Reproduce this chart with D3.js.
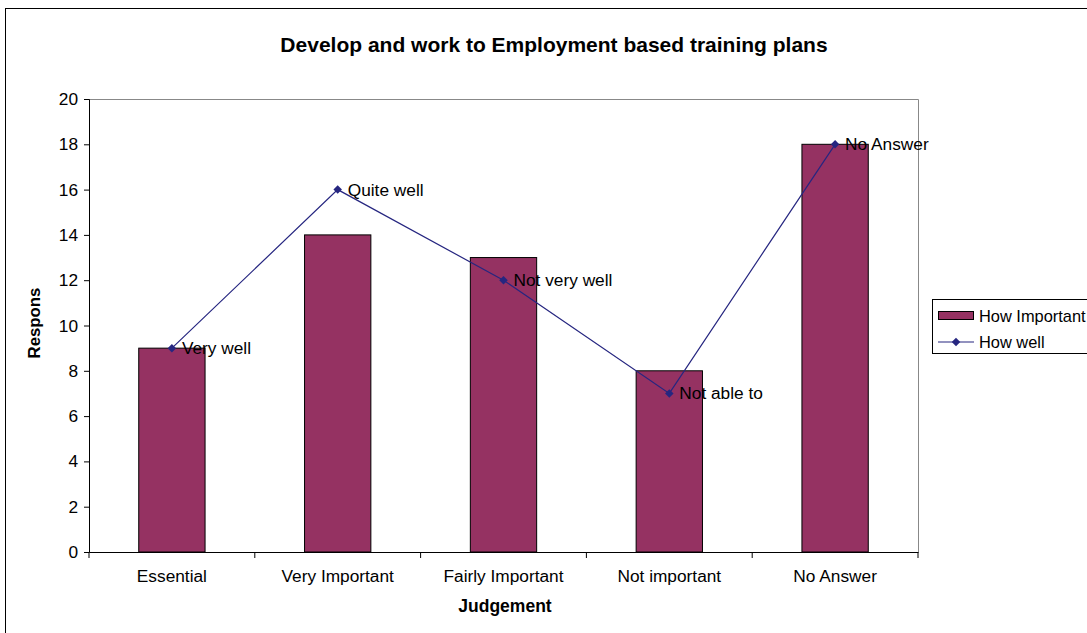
<!DOCTYPE html>
<html><head><meta charset="utf-8">
<script src="https://cdn.jsdelivr.net/npm/d3@7"></script>
<style>body{margin:0;background:#fff;overflow:hidden}svg{display:block}</style>
</head><body>
<svg id="c" width="1087" height="633"></svg>
<script>
const categories = ["Essential", "Very Important", "Fairly Important", "Not important", "No Answer"];
const howImportant = [9, 14, 13, 8, 18];
const howWell = [9, 16, 12, 7, 18];
const wellLabels = ["Very well", "Quite well", "Not very well", "Not able to", "No Answer"];
const yTicks = [0, 2, 4, 6, 8, 10, 12, 14, 16, 18, 20];
const seriesNames = ["How Important", "How well"];

(function () {
const svg = d3.select("#c");
const font = "'Liberation Sans', Arial, sans-serif";
const fs = 17.3;
const barColor = "#953262", lineColor = "#262680";
const pL = 89, pR = 918, pT = 99, pB = 552;

svg.append("rect").attr("x", 5.5).attr("y", 8.5).attr("width", 1300).attr("height", 800)
  .attr("fill", "#fff").attr("stroke", "#000").attr("stroke-width", 1);

const x = d3.scaleBand().domain(categories).range([pL, pR]).paddingInner(0).paddingOuter(0);
const y = d3.scaleLinear().domain([0, 20]).range([pB, pT]);

svg.append("path").attr("d", `M${pL},${pT + 0.5}H${pR + 0.5}V${pB}`)
  .attr("fill", "none").attr("stroke", "#888").attr("stroke-width", 1);

const bw = x.bandwidth() * 0.4;
svg.append("g").selectAll("rect").data(categories).join("rect")
  .attr("x", (d) => x(d) + (x.bandwidth() - bw) / 2)
  .attr("y", (d, i) => y(howImportant[i]))
  .attr("width", bw)
  .attr("height", (d, i) => y(0) - y(howImportant[i]))
  .attr("fill", barColor).attr("stroke", "#000").attr("stroke-width", 1);

const ya = svg.append("g").attr("transform", `translate(${pL},0)`)
  .call(d3.axisLeft(y).tickValues(yTicks).tickSize(5).tickPadding(6).tickFormat(d3.format("d")));
ya.select(".domain").attr("stroke", "#000");
ya.selectAll(".tick line").attr("stroke", "#000");
ya.selectAll("text").attr("font-family", font).attr("font-size", fs).attr("fill", "#000");

const xa = svg.append("g").attr("transform", `translate(0,${pB})`)
  .call(d3.axisBottom(x).tickSize(0).tickPadding(18));
xa.select(".domain").attr("stroke", "#000");
xa.selectAll("text").attr("font-family", font).attr("font-size", fs).attr("fill", "#000");
const edges = categories.map((c) => x(c)).concat([pR]);
svg.append("g").selectAll("line").data(edges).join("line")
  .attr("x1", (d) => d).attr("x2", (d) => d)
  .attr("y1", pB).attr("y2", pB + 6)
  .attr("stroke", "#000");

const cx = (i) => x(categories[i]) + x.bandwidth() / 2;
svg.append("path").datum(howWell)
  .attr("d", d3.line().x((d, i) => cx(i)).y((d) => y(d)))
  .attr("fill", "none").attr("stroke", lineColor).attr("stroke-width", 1.2);
const marker = d3.symbol().type(d3.symbolSquare).size(36);
svg.append("g").selectAll("path").data(howWell).join("path")
  .attr("d", marker)
  .attr("transform", (d, i) => `translate(${cx(i)},${y(d)}) rotate(45)`)
  .attr("fill", lineColor);
svg.append("g").selectAll("text").data(howWell).join("text")
  .attr("x", (d, i) => cx(i) + 10).attr("y", (d) => y(d) + 6)
  .attr("font-family", font).attr("font-size", fs).attr("fill", "#000")
  .text((d, i) => wellLabels[i]);

svg.append("text").attr("x", 554).attr("y", 52).attr("text-anchor", "middle")
  .attr("font-family", font).attr("font-size", 21).attr("font-weight", "bold")
  .text("Develop and work to Employment based training plans");
svg.append("text").attr("x", 505).attr("y", 612).attr("text-anchor", "middle")
  .attr("font-family", font).attr("font-size", 17.5).attr("font-weight", "bold")
  .text("Judgement");
svg.append("text").attr("transform", "translate(40,323) rotate(-90)").attr("text-anchor", "middle")
  .attr("font-family", font).attr("font-size", 16.8).attr("font-weight", "bold")
  .text("Respons");

const lg = svg.append("g");
const lfs = 16.4;
lg.append("rect").attr("x", 932.5).attr("y", 299.5).attr("width", 200).attr("height", 54)
  .attr("fill", "#fff").attr("stroke", "#000");
lg.append("rect").attr("x", 938.5).attr("y", 311.5).attr("width", 35).attr("height", 8)
  .attr("fill", barColor).attr("stroke", "#000");
lg.append("text").attr("x", 979).attr("y", 322).attr("font-family", font).attr("font-size", lfs)
  .text(seriesNames[0]);
lg.append("line").attr("x1", 938).attr("x2", 974).attr("y1", 342).attr("y2", 342)
  .attr("stroke", lineColor).attr("stroke-width", 1.2);
lg.append("path").attr("d", marker).attr("transform", "translate(956,342) rotate(45)").attr("fill", lineColor);
lg.append("text").attr("x", 979).attr("y", 348).attr("font-family", font).attr("font-size", lfs)
  .text(seriesNames[1]);
})();
</script>
</body></html>
